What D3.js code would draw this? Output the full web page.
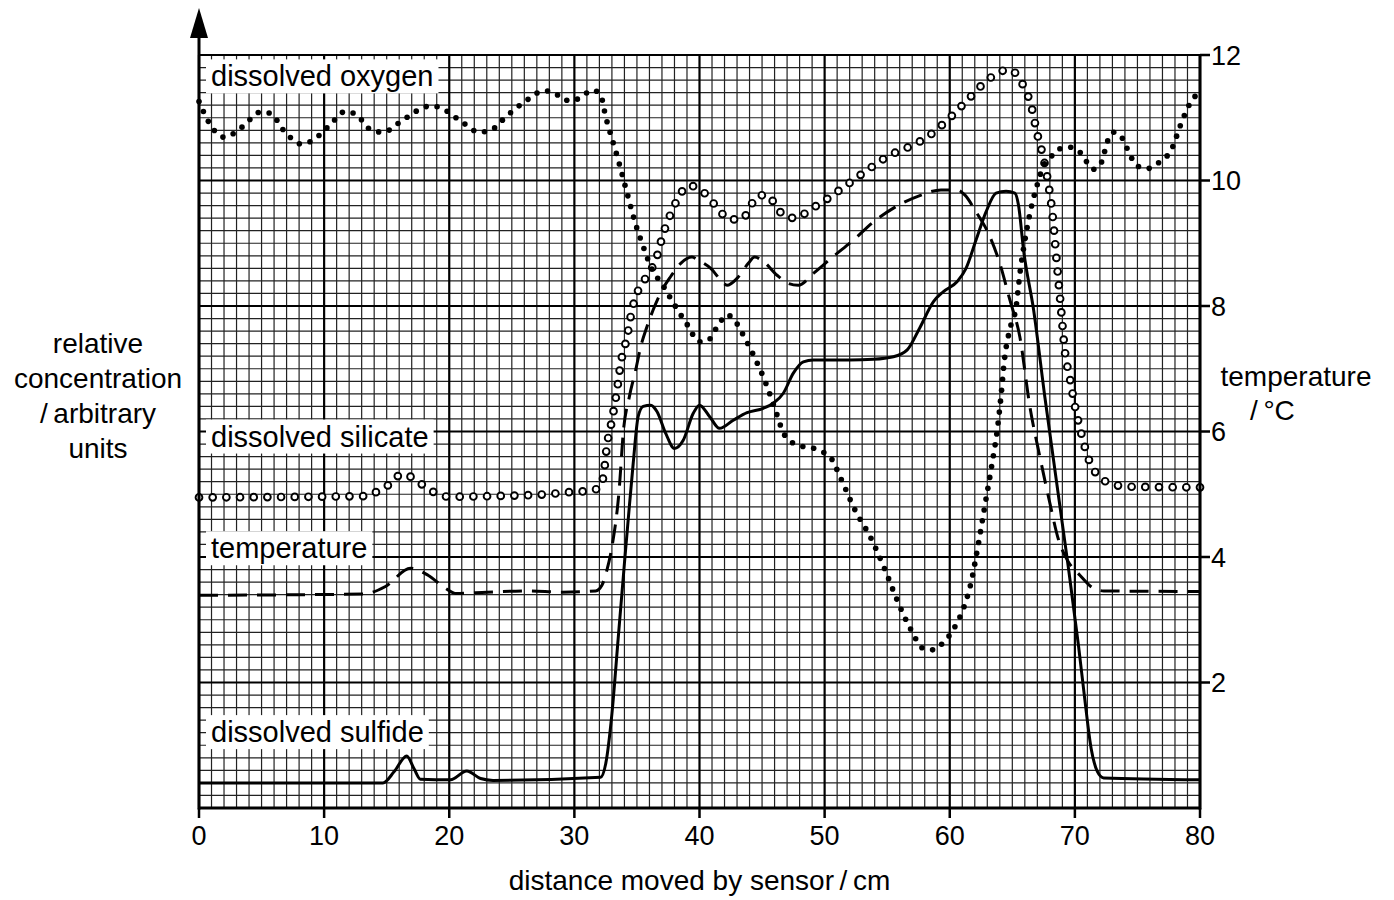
<!DOCTYPE html>
<html lang="en">
<head>
<meta charset="UTF-8">
<title>Sensor profile</title>
<style>
  body { margin: 0; background: #fff; }
  svg { display: block; font-family: "Liberation Sans", Arial, sans-serif; }
  .lbl { font-size: 29px; fill: #000; }
  .tick-label { font-size: 27px; fill: #000; }
  .title { font-size: 28px; fill: #000; }
</style>
</head>
<body>
<svg id="chart" width="1394" height="900"></svg>
<script src="https://d3js.org/d3.v7.min.js"></script>
<script>
// [distance / cm, value on the temperature scale]
const oxygen = [[0,11.26],[0.75,10.94],[2.0,10.69],[3.5,10.86],[4.9,11.09],[5.7,11.07],[6.8,10.79],[8.2,10.58],[9.0,10.63],[10.4,10.87],[11.7,11.10],[12.5,11.06],[13.8,10.80],[14.7,10.77],[16.2,10.95],[17.7,11.14],[18.5,11.19],[19.4,11.15],[20.9,10.95],[22.4,10.77],[23.3,10.80],[24.6,11.03],[26.0,11.25],[27.6,11.43],[28.4,11.40],[29.1,11.29],[29.9,11.27],[30.7,11.36],[31.5,11.44],[32.1,11.36],[32.5,11.02],[33.0,10.67],[33.5,10.33],[34.2,9.81],[34.9,9.30],[35.5,8.95],[36.1,8.63],[37.1,8.32],[38.0,8.02],[39.0,7.71],[40.0,7.43],[40.6,7.44],[41.6,7.73],[42.2,7.86],[42.8,7.77],[43.7,7.46],[44.5,7.14],[45.2,6.82],[46.1,6.32],[46.7,5.98],[47.3,5.84],[48.1,5.77],[49.0,5.74],[49.8,5.68],[50.5,5.58],[51.3,5.25],[52.4,4.76],[53.7,4.30],[54.8,3.81],[55.8,3.31],[56.9,2.84],[57.9,2.54],[58.7,2.52],[59.4,2.62],[60.5,2.92],[61.2,3.24],[61.7,3.59],[62.2,4.11],[62.8,4.81],[63.4,5.51],[63.8,6.03],[64.1,6.57],[64.35,7.11],[64.8,7.63],[65.3,7.98],[65.6,8.51],[66.0,9.04],[66.5,9.56],[66.96,9.91],[67.5,10.24],[68.1,10.38],[68.7,10.50],[69.6,10.53],[70.4,10.45],[71.5,10.18],[72.1,10.28],[72.6,10.62],[73.1,10.77],[73.7,10.70],[74.5,10.37],[75.0,10.23],[75.8,10.19],[76.6,10.27],[77.8,10.53],[78.4,10.86],[79.1,11.19],[79.6,11.34]];

const silicate = [[0,4.95],[13.3,4.97],[14.3,5.05],[15.3,5.17],[16.2,5.32],[17.1,5.26],[18.0,5.13],[18.9,5.02],[20.0,4.96],[23.3,4.97],[27.8,5.00],[30.0,5.04],[31.1,5.05],[32.1,5.12],[32.35,5.33],[32.6,5.77],[33.0,6.18],[33.4,6.65],[33.7,7.08],[34.2,7.50],[34.6,7.93],[34.9,8.15],[35.4,8.35],[35.97,8.53],[36.5,8.73],[37.1,9.15],[37.9,9.56],[38.4,9.76],[39.1,9.92],[40.1,9.85],[40.9,9.69],[41.6,9.52],[42.4,9.38],[43.4,9.38],[44.0,9.56],[44.6,9.75],[45.4,9.77],[46.1,9.60],[46.8,9.43],[47.8,9.40],[48.7,9.52],[49.7,9.64],[51.5,9.89],[53.3,10.15],[55.1,10.39],[57.1,10.57],[58.1,10.68],[59.8,10.96],[61.4,11.28],[62.9,11.58],[63.8,11.71],[64.8,11.77],[65.6,11.61],[66.1,11.42],[66.5,11.20],[66.96,10.77],[67.5,10.35],[67.9,9.92],[68.2,9.48],[68.5,8.82],[68.9,7.94],[69.2,7.28],[69.6,6.85],[70.0,6.41],[70.5,5.98],[71.1,5.56],[71.6,5.36],[72.4,5.21],[73.4,5.14],[74.5,5.12],[80,5.11]];

const temperature = [[0,3.39],[13.1,3.41],[14.9,3.53],[16.9,3.82],[18.3,3.71],[19.7,3.50],[20.5,3.42],[23,3.44],[26.3,3.46],[29,3.44],[31.7,3.46],[32.2,3.55],[32.6,3.79],[33.0,4.16],[33.6,5.12],[33.9,5.97],[34.4,6.56],[34.9,6.98],[35.3,7.35],[35.8,7.67],[36.3,7.94],[37.0,8.25],[37.7,8.47],[38.5,8.68],[39.4,8.78],[39.9,8.73],[40.9,8.60],[41.8,8.39],[42.2,8.33],[43.0,8.44],[43.9,8.68],[44.4,8.78],[45.1,8.71],[46.2,8.49],[47.1,8.36],[47.9,8.33],[49.1,8.52],[50.7,8.79],[52.3,9.05],[53.9,9.34],[55.5,9.56],[57.6,9.76],[59.3,9.85],[60.6,9.85],[61.2,9.77],[62.1,9.50],[63.2,9.11],[64.0,8.68],[64.8,8.10],[65.6,7.51],[66.4,6.40],[67.2,5.60],[68.0,4.86],[68.7,4.27],[69.4,3.95],[70.4,3.71],[71.5,3.50],[72.3,3.46],[80,3.45]];

const sulfide = [[0,0.40],[14.7,0.40],[15.6,0.58],[16.6,0.83],[17.2,0.62],[17.7,0.46],[20.1,0.45],[21.4,0.59],[22.5,0.47],[23.5,0.44],[32.1,0.49],[32.5,0.70],[33.0,1.5],[33.5,2.7],[34.0,3.9],[34.3,4.59],[34.7,5.49],[35.1,6.24],[35.5,6.40],[36.1,6.42],[36.6,6.32],[37.3,5.97],[38.0,5.73],[38.7,5.86],[39.5,6.29],[40.0,6.42],[40.8,6.24],[41.6,6.05],[42.7,6.18],[43.8,6.30],[45.1,6.37],[45.9,6.45],[46.7,6.61],[47.5,6.93],[48.3,7.11],[49.1,7.14],[52.0,7.14],[53.9,7.15],[55.5,7.19],[56.6,7.30],[57.6,7.65],[58.7,8.07],[59.5,8.23],[60.6,8.39],[61.3,8.60],[62.1,9.05],[62.9,9.50],[63.7,9.80],[64.5,9.83],[65.2,9.80],[65.5,9.60],[65.9,8.89],[66.7,7.94],[67.6,6.55],[69.4,3.95],[70.3,2.57],[70.8,1.72],[71.3,0.95],[71.8,0.58],[72.3,0.48],[80,0.45]];

const distTicks = [0, 10, 20, 30, 40, 50, 60, 70, 80];
const tempTicks = [2, 4, 6, 8, 10, 12];

// series labels: text, value of baseline
const seriesLabels = [
  { text: "dissolved oxygen", v: 11.5 },
  { text: "dissolved silicate", v: 5.76 },
  { text: "temperature", v: 3.98 },
  { text: "dissolved sulfide", v: 1.05 }
];

const svg = d3.select("#chart");
const x = d3.scaleLinear().domain([0, 80]).range([199, 1200]);
const y = d3.scaleLinear().domain([0, 12]).range([808, 55]);

// graph paper grid
const grid = svg.append("g");
const vLines = d3.range(0, 81);          // every 1 cm
const hLines = d3.range(0, 61);          // every 0.2 units (index)
grid.selectAll(".vmin").data(vLines.filter(d => d % 10)).join("line")
  .attr("x1", d => x(d)).attr("x2", d => x(d))
  .attr("y1", y(0)).attr("y2", y(12))
  .attr("stroke", "#222").attr("stroke-width", 1.2);
grid.selectAll(".hmin").data(hLines.filter(d => d % 10)).join("line")
  .attr("x1", x(0)).attr("x2", x(80))
  .attr("y1", d => y(d * 0.2)).attr("y2", d => y(d * 0.2))
  .attr("stroke", "#222").attr("stroke-width", 1.2);
grid.selectAll(".vmaj").data(vLines.filter(d => d % 10 === 0)).join("line")
  .attr("x1", d => x(d)).attr("x2", d => x(d))
  .attr("y1", y(0)).attr("y2", y(12))
  .attr("stroke", "#000").attr("stroke-width", 2.2);
grid.selectAll(".hmaj").data(hLines.filter(d => d % 10 === 0)).join("line")
  .attr("x1", x(0)).attr("x2", x(80))
  .attr("y1", d => y(d * 0.2)).attr("y2", d => y(d * 0.2))
  .attr("stroke", "#000").attr("stroke-width", 2.2);

// labels with white boxes over the grid
const lg = svg.append("g");
seriesLabels.forEach(l => {
  const t = lg.append("text").attr("class", "lbl")
    .attr("x", x(0) + 12).attr("y", y(l.v)).text(l.text);
  const b = t.node().getBBox();
  lg.insert("rect", "text")
    .attr("x", b.x - 5).attr("y", b.y - 1)
    .attr("width", b.width + 10).attr("height", b.height + 2)
    .attr("fill", "#fff");
});

const line = d3.line()
  .x(d => x(d[0])).y(d => y(d[1]))
  .curve(d3.curveMonotoneX);

// sulfide: solid line
svg.append("path").datum(sulfide)
  .attr("d", line).attr("fill", "none")
  .attr("stroke", "#000").attr("stroke-width", 3)
  .attr("stroke-linejoin", "round");

// temperature: dashed line
svg.append("path").datum(temperature)
  .attr("d", line).attr("fill", "none")
  .attr("stroke", "#000").attr("stroke-width", 3)
  .attr("stroke-dasharray", "19,10");

// marks spaced evenly along a series curve
function alongPath(data, step) {
  const p = svg.append("path").datum(data).attr("d", line).attr("fill", "none");
  const node = p.node();
  const len = node.getTotalLength();
  const n = Math.round(len / step);
  const pts = d3.range(n + 1).map(i => node.getPointAtLength(len * i / n));
  p.remove();
  return pts;
}

// silicate: open circles
svg.append("g").selectAll("circle").data(alongPath(silicate, 13.7)).join("circle")
  .attr("cx", d => d.x).attr("cy", d => d.y).attr("r", 3.4)
  .attr("fill", "#fff").attr("stroke", "#000").attr("stroke-width", 1.9);

// oxygen: filled dots
svg.append("g").selectAll("circle").data(alongPath(oxygen, 11)).join("circle")
  .attr("cx", d => d.x).attr("cy", d => d.y).attr("r", 2.8)
  .attr("fill", "#000");

// axes
const ax = svg.append("g").attr("stroke", "#000");
ax.append("line").attr("x1", x(0)).attr("x2", x(0)).attr("y1", y(0) + 1.5).attr("y2", 30)
  .attr("stroke-width", 3);
svg.append("path").attr("d", `M${x(0)},8 L${x(0) - 9},38 L${x(0) + 9},38 Z`).attr("fill", "#000");
ax.append("line").attr("x1", x(80)).attr("x2", x(80)).attr("y1", y(0) + 1.5).attr("y2", y(12) - 1)
  .attr("stroke-width", 3);
ax.append("line").attr("x1", x(0)).attr("x2", x(80)).attr("y1", y(0)).attr("y2", y(0))
  .attr("stroke-width", 3);

ax.selectAll(".rt").data(tempTicks).join("line")
  .attr("x1", x(80)).attr("x2", x(80) + 10)
  .attr("y1", d => y(d)).attr("y2", d => y(d)).attr("stroke-width", 2.5);
ax.selectAll(".bt").data(distTicks).join("line")
  .attr("x1", d => x(d)).attr("x2", d => x(d))
  .attr("y1", y(0)).attr("y2", y(0) + 10).attr("stroke-width", 2.5);

svg.append("g").selectAll("text").data(tempTicks).join("text")
  .attr("class", "tick-label")
  .attr("x", x(80) + 11).attr("y", d => y(d))
  .attr("dy", "0.36em").text(d => d);

svg.append("g").selectAll("text").data(distTicks).join("text")
  .attr("class", "tick-label").attr("text-anchor", "middle")
  .attr("x", d => x(d)).attr("y", y(0) + 37).text(d => d);

// axis titles
svg.append("text").attr("class", "title").attr("text-anchor", "middle")
  .attr("x", x(40)).attr("y", 890).text("distance moved by sensor\u2009/\u2009cm");

const leftTitle = ["relative", "concentration", "/\u2009arbitrary", "units"];
svg.append("text").attr("class", "title").attr("text-anchor", "middle")
  .selectAll("tspan").data(leftTitle).join("tspan")
  .attr("x", 98).attr("y", (d, i) => 353 + i * 35).text(d => d);

svg.append("text").attr("class", "title").attr("text-anchor", "middle")
  .attr("x", 1296).attr("y", 386).text("temperature");
svg.append("text").attr("class", "title").attr("text-anchor", "start")
  .attr("x", 1250).attr("y", 420).text("/\u2009°C");
</script>
</body>
</html>
